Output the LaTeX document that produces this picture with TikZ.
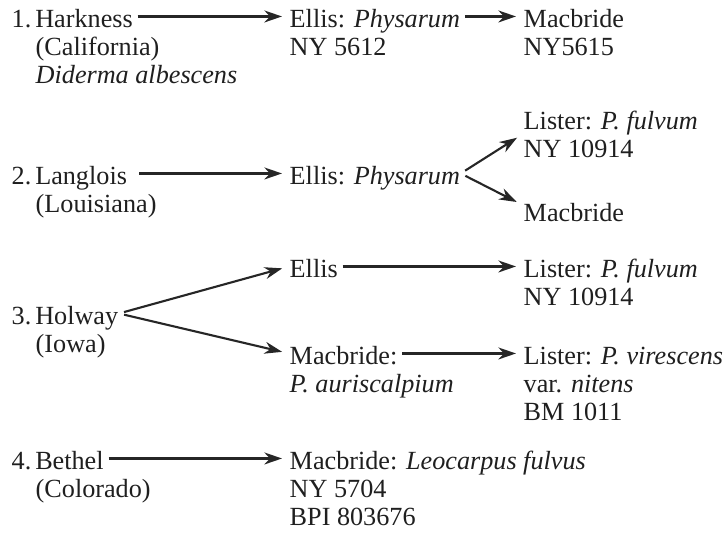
\documentclass[tikz,border=0pt]{standalone}
\usepackage{fontspec}
\setmainfont{Liberation Serif}
\usetikzlibrary{arrows.meta}

\begin{document}
\begin{tikzpicture}[x=0.01cm, y=-0.01cm, >={Stealth[length=5pt, width=3.4pt, inset=1.6pt]},
    every node/.style={font=\fontsize{7.45pt}{7.97pt}\selectfont, text=black!88}]

% Estilos para las entradas y las flechas
\tikzset{
    entry/.style={
        inner sep=0pt,
        anchor=base west,
        text height=0.72em,
        text depth=0.12em
    },
    flow/.style={
        ->,
        draw=black!85,
        line width=0.6pt,
        shorten <=1.2pt,
        shorten >=2pt
    }
}

\useasboundingbox (0,0) rectangle (725,535);

% =============================================
% 1. HARKNESS
% =============================================
\node[entry] (h1)  at (11, 27) {1.\hspace{0.15em}Harkness};
\node[entry] (h1b) at (35, 55) {(California)};
\node[entry] (h1c) at (35, 83) {\textit{Diderma albescens}};

\node[entry] (e1)  at (289, 27) {Ellis: \textit{Physarum}};
\node[entry] (e1b) at (289, 55) {NY 5612};

\node[entry] (m1)  at (523, 27) {Macbride};
\node[entry] (m1b) at (523, 55) {NY5615};

\draw[flow] (h1.east) -- (e1.west);
\draw[flow] (e1.east) -- (m1.west);

% =============================================
% 2. LANGLOIS
% =============================================
\node[entry] (l2)  at (523, 129) {Lister: \textit{P. fulvum}};
\node[entry] (l2b) at (523, 157) {NY 10914};

\node[entry] (h2)  at (11, 184) {2.\hspace{0.15em}Langlois};
\node[entry] (h2b) at (35, 212) {(Louisiana)};

\node[entry] (e2)  at (289, 184) {Ellis: \textit{Physarum}};

\node[entry] (m2)  at (523, 221) {Macbride};

\draw[flow, shorten <=3.3pt] (h2.east) -- (e2.west);
\draw[flow, shorten <=1.5pt] (e2.east) -- (l2.south west);
\draw[flow, shorten <=1.5pt] (e2.east) -- ([yshift=1.5pt]m2.west);

% =============================================
% 3. HOLWAY
% =============================================
\node[entry] (e3)  at (289, 277) {Ellis};
\node[entry] (l3)  at (523, 277) {Lister: \textit{P. fulvum}};
\node[entry] (l3b) at (523, 305) {NY 10914};

\node[entry] (h3)  at (11, 324) {3.\hspace{0.15em}Holway};
\node[entry] (h3b) at (35, 352) {(Iowa)};

\node[entry] (m3)  at (289, 364) {Macbride:};
\node[entry] (m3b) at (289, 392) {\textit{P. auriscalpium}};

\node[entry] (v3)  at (523, 364) {Lister: \textit{P. virescens}};
\node[entry] (v3b) at (523, 392) {var. \textit{nitens}};
\node[entry] (v3c) at (523, 420) {BM 1011};

\draw[flow, shorten <=1.5pt] (h3.east) -- (e3.west);
\draw[flow, shorten <=1.5pt] (h3.east) -- (m3.west);
\draw[flow] (e3.east) -- (l3.west);
\draw[flow] (m3.east) -- (v3.west);

% =============================================
% 4. BETHEL
% =============================================
\node[entry] (h4)  at (11, 469) {4.\hspace{0.15em}Bethel};
\node[entry] (h4b) at (35, 497) {(Colorado)};

\node[entry] (m4)  at (289, 469) {Macbride: \textit{Leocarpus fulvus}};
\node[entry] (m4b) at (289, 497) {NY 5704};
\node[entry] (m4c) at (289, 525) {BPI 803676};

\draw[flow] (h4.east) -- (m4.west);

\end{tikzpicture}
\end{document}
